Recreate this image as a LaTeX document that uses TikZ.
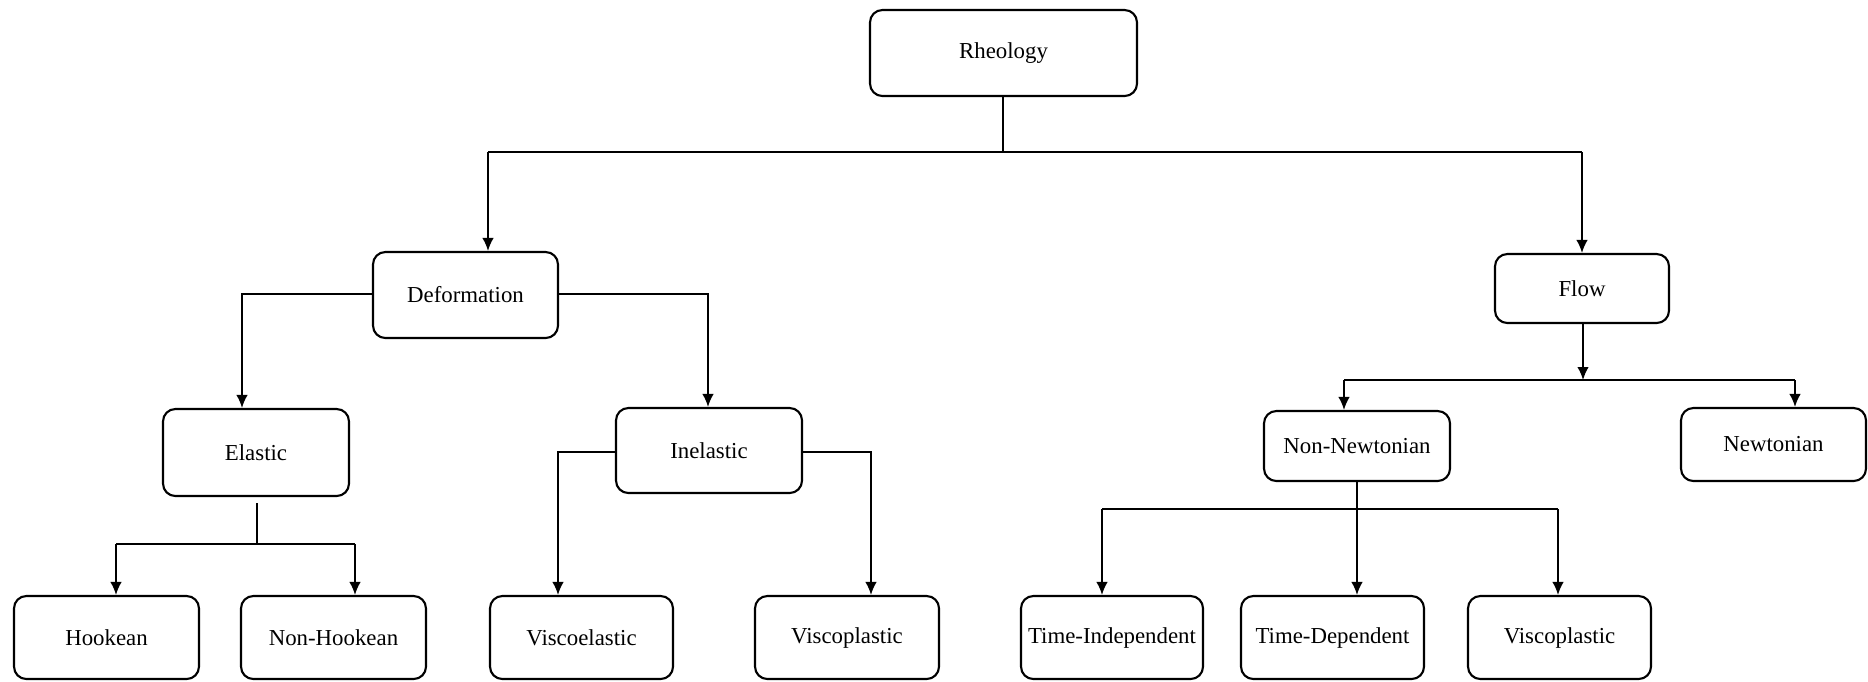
\documentclass[tikz,border=0pt]{standalone}
\usepackage{fontspec}
\setmainfont{Liberation Serif}
\usetikzlibrary{arrows.meta}
\tikzset{
  box/.style={draw, rounded corners=7pt, line width=1.2pt, align=center,
    inner sep=0pt, font=\fontsize{13}{15}\selectfont},
  link/.style={line width=1pt},
  arr/.style={link, -{Latex[length=2.6mm,width=2.3mm]}},
}
\begin{document}
\begin{tikzpicture}[x=0.02cm, y=-0.02cm]
    \useasboundingbox (0,0) rectangle (1868,681);
    % top
    \node[box, minimum width=5.34cm, minimum height=1.72cm] (rheo) at (1003.5,53) {Rheology};
    \node[box, minimum width=3.70cm, minimum height=1.72cm] (deform) at (465.5,295) {Deformation};
    \node[box, minimum width=3.48cm, minimum height=1.38cm] (flow) at (1582,288.5) {Flow};
    % middle row
    \node[box, minimum width=3.72cm, minimum height=1.74cm] (elastic) at (256,452.5) {Elastic};
    \node[box, minimum width=3.72cm, minimum height=1.70cm] (inelastic) at (709,450.5) {Inelastic};
    \node[box, minimum width=3.72cm, minimum height=1.40cm] (nonnewt) at (1357,446) {Non-Newtonian};
    \node[box, minimum width=3.70cm, minimum height=1.46cm] (newt) at (1773.5,444.5) {Newtonian};
    % bottom row
    \node[box, minimum width=3.70cm, minimum height=1.66cm] (hook) at (106.5,637.5) {Hookean};
    \node[box, minimum width=3.70cm, minimum height=1.66cm] (nonhook) at (333.5,637.5) {Non-Hookean};
    \node[box, minimum width=3.66cm, minimum height=1.66cm] (viscoel) at (581.5,637.5) {Viscoelastic};
    \node[box, minimum width=3.68cm, minimum height=1.66cm] (viscopl) at (847,637.5) {Viscoplastic};
    \node[box, minimum width=3.64cm, minimum height=1.66cm] (timeind) at (1112,637.5) {Time-Independent};
    \node[box, minimum width=3.66cm, minimum height=1.66cm] (timedep) at (1332.5,637.5) {Time-Dependent};
    \node[box, minimum width=3.66cm, minimum height=1.66cm] (viscopltwo) at (1559.5,637.5) {Viscoplastic};

    % bus points
    \coordinate (rbus) at (1003,152);
    \coordinate (rbusl) at (488,152);
    \coordinate (rbusr) at (1582,152);
    \coordinate (dl) at (242,294);
    \coordinate (dr) at (708,294);
    \coordinate (ebus) at (257,544);
    \coordinate (ebusl) at (116,544);
    \coordinate (ebusr) at (355,544);
    \coordinate (il) at (558,452);
    \coordinate (ir) at (871,452);
    \coordinate (fbus) at (1583,380);
    \coordinate (fbusl) at (1344,380);
    \coordinate (fbusr) at (1795,380);
    \coordinate (nbusl) at (1102,509);
    \coordinate (nbusr) at (1558,509);

    \draw[link] (rheo.south -| rbus) -- (rbus);
    \draw[link] (rbusl) -- (rbusr);
    \draw[arr] (rbusl) -- (rbusl |- deform.north);
    \draw[arr] (rbusr) -- (rbusr |- flow.north);

    \draw[arr] (deform.west |- dl) -- (dl) -- (dl |- elastic.north);
    \draw[arr] (deform.east |- dr) -- (dr) -- (dr |- inelastic.north);

    \draw[link] ([yshift=-0.12cm]elastic.south -| ebus) -- (ebus);
    \draw[link] (ebusl) -- (ebusr);
    \draw[arr] (ebusl) -- (ebusl |- hook.north);
    \draw[arr] (ebusr) -- (ebusr |- nonhook.north);

    \draw[arr] (inelastic.west |- il) -- (il) -- (il |- viscoel.north);
    \draw[arr] (inelastic.east |- ir) -- (ir) -- (ir |- viscopl.north);

    \draw[arr] (flow.south -| fbus) -- (fbus);
    \draw[link] (fbusl) -- (fbusr);
    \draw[arr] (fbusl) -- (fbusl |- nonnewt.north);
    \draw[arr] (fbusr) -- (fbusr |- newt.north);

    \draw[arr] (nonnewt.south) -- (timedep.north -| nonnewt.south);
    \draw[link] (nbusl) -- (nbusr);
    \draw[arr] (nbusl) -- (nbusl |- timeind.north);
    \draw[arr] (nbusr) -- (nbusr |- viscopltwo.north);
\end{tikzpicture}
\end{document}
